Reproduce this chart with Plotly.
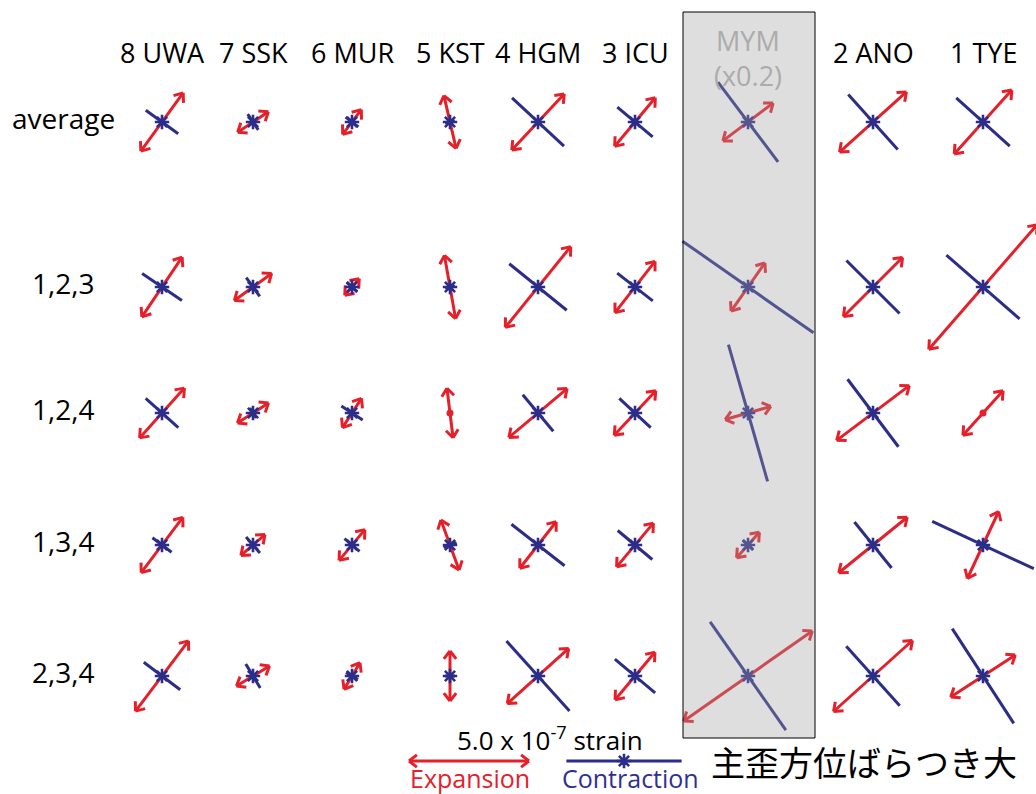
import math
import plotly.graph_objects as go

# ---------------- data ----------------
stations = ["8 UWA", "7 SSK", "6 MUR", "5 KST", "4 HGM", "3 ICU", "MYM", "2 ANO", "1 TYE"]
row_labels = ["average", "1,2,3", "1,2,4", "1,3,4", "2,3,4"]
# display factor per station (MYM drawn at x0.2)
display_factor = [1, 1, 1, 1, 1, 1, 0.2, 1, 1]

# principal expansion strain (unit: 1e-7 strain)
expansion = [
    [3.00, 1.54, 1.29, 2.25, 3.20, 2.63, 13.1, 3.75, 3.58],
    [3.00, 1.92, 0.92, 2.67, 4.33, 2.71, 12.3, 3.48, 6.88],
    [2.79, 1.54, 1.46, 2.08, 3.17, 2.54, 9.9, 3.79, 2.50],
    [2.88, 1.33, 1.67, 2.21, 2.46, 2.38, 7.1, 3.67, 3.08],
    [3.67, 1.61, 1.29, 2.08, 3.44, 2.58, 32.7, 4.42, 3.21],
]
# principal contraction strain (unit: 1e-7 strain; negative = also extensional)
contraction = [
    [1.67, 0.79, 0.67, 0.42, 2.96, 1.92, 20.8, 3.08, 3.00],
    [2.00, 0.96, 0.58, 0.42, 3.08, 1.88, 33.3, 3.13, 4.04],
    [1.83, 0.50, 1.06, -0.17, 1.98, 1.79, 29.6, 3.52, -0.25],
    [1.00, 0.88, 0.82, 0.58, 2.81, 1.88, 2.9, 2.46, 4.67],
    [1.90, 1.17, 0.58, 0.42, 3.92, 2.19, 27.5, 3.33, 4.71],
]
# azimuth of expansion axis (degrees clockwise from north)
azimuth = [
    [36, 56, 37, 167, 43, 40, 53, 48, 42],
    [34, 54, 41, 170, 39, 38, 35, 45, 41],
    [42, 57, 33, 173, 50, 43, 74, 53, 42],
    [37, 49, 40, 160, 38, 40, 42, 51, 25],
    [37, 59, 31, 180, 48, 40, 55, 48, 57],
]
legend_strain = 5.0  # 1e-7 strain

# ---------------- layout constants ----------------
W, H = 1036, 794
col_x = [162, 253, 352, 450, 538, 635, 748, 873, 983]
row_y = [122, 287, 413, 545, 676]
PX_PER_UNIT = 24.0  # tip-to-tip pixels per 1e-7 strain
RED = "#e4202a"
BLUE = "#2b2d88"
HEAD_LEN = 10
HEAD_ANG = math.radians(38)


def direction(az):
    a = math.radians(az)
    return math.sin(a), -math.cos(a)


def add_arrow(xs, ys, cx, cy, half, az, heads=True):
    dx, dy = direction(az)
    x1, y1 = cx - half * dx, cy - half * dy
    x2, y2 = cx + half * dx, cy + half * dy
    xs += [x1, x2, None]
    ys += [y1, y2, None]
    if not heads:
        return
    for tx, ty, ux, uy in [(x2, y2, dx, dy), (x1, y1, -dx, -dy)]:
        for s in (1, -1):
            c, sn = math.cos(s * HEAD_ANG), math.sin(s * HEAD_ANG)
            rx_ = ux * c - uy * sn
            ry_ = ux * sn + uy * c
            xs += [tx - HEAD_LEN * rx_, tx, None]
            ys += [ty - HEAD_LEN * ry_, ty, None]


def add_line(xs, ys, cx, cy, half, az):
    dx, dy = direction(az)
    xs += [cx - half * dx, cx + half * dx, None]
    ys += [cy - half * dy, cy + half * dy, None]


rx, ry, bx, by = [], [], [], []
mbx, mby, mrx, mry = [], [], [], []
for i, yy in enumerate(row_y):
    for j, xx in enumerate(col_x):
        f = display_factor[j]
        he = expansion[i][j] * PX_PER_UNIT / 2 * f
        hc = contraction[i][j] * PX_PER_UNIT / 2 * f
        add_arrow(rx, ry, xx, yy, he, azimuth[i][j])
        if hc >= 0:
            add_line(bx, by, xx, yy, hc, azimuth[i][j] + 90)
            mbx.append(xx)
            mby.append(yy)
        else:
            add_line(rx, ry, xx, yy, -hc, azimuth[i][j] + 90)
            mrx.append(xx)
            mry.append(yy)

# legend symbols
leg_red_c = (469, 761)
leg_blue_c = (624, 761)
add_arrow(rx, ry, leg_red_c[0], leg_red_c[1], legend_strain * PX_PER_UNIT / 2, 90)
add_line(bx, by, leg_blue_c[0], leg_blue_c[1], legend_strain * PX_PER_UNIT / 2 * 0.96, 90)
mbx.append(leg_blue_c[0])
mby.append(leg_blue_c[1])

fig = go.Figure()
fig.add_trace(go.Scatter(x=rx, y=ry, mode="lines", line=dict(color=RED, width=3),
                         hoverinfo="skip"))
fig.add_trace(go.Scatter(x=bx, y=by, mode="lines", line=dict(color=BLUE, width=3),
                         hoverinfo="skip"))
fig.add_trace(go.Scatter(x=mbx, y=mby, mode="markers",
                         marker=dict(symbol="asterisk-open", size=12, color=BLUE,
                                     line=dict(color=BLUE, width=2.6)),
                         hoverinfo="skip"))
fig.add_trace(go.Scatter(x=mrx, y=mry, mode="markers",
                         marker=dict(symbol="circle", size=7, color=RED),
                         hoverinfo="skip"))

# MYM overlay box
fig.add_shape(type="rect", x0=683, x1=815, y0=12, y1=738, xref="x", yref="y",
              fillcolor="rgba(160,160,160,0.35)", line=dict(color="black", width=1),
              layer="above")

FONT = "Open Sans, Noto Sans, sans-serif"
ann = []
for j, name in enumerate(stations):
    if name == "MYM":
        ann.append(dict(x=col_x[j], y=40, text="MYM", font=dict(size=27, color="#ababab", family=FONT)))
        ann.append(dict(x=col_x[j], y=75, text="(x0.2)", font=dict(size=27, color="#ababab", family=FONT)))
    else:
        ann.append(dict(x=col_x[j], y=52, text=name, font=dict(size=27, color="black", family=FONT)))
for i, lab in enumerate(row_labels):
    ann.append(dict(x=63, y=row_y[i] - 4, text=lab, font=dict(size=28, color="black", family=FONT)))

ann.append(dict(x=550, y=739, text="5.0 x 10<sup>-7</sup> strain",
                font=dict(size=26, color="black", family=FONT)))
ann.append(dict(x=470, y=778, text="Expansion", font=dict(size=25, color=RED, family=FONT)))
ann.append(dict(x=630, y=778, text="Contraction", font=dict(size=25, color="#2e3192", family=FONT)))
ann.append(dict(x=864, y=761, text="主歪方位ばらつき大",
                font=dict(size=34, color="black", family="Noto Sans CJK JP")))
for a in ann:
    a.update(xref="x", yref="y", showarrow=False, xanchor="center", yanchor="middle")

fig.update_layout(
    width=W, height=H, autosize=False,
    margin=dict(l=0, r=0, t=0, b=0),
    paper_bgcolor="white", plot_bgcolor="white",
    showlegend=False,
    xaxis=dict(range=[0, W], visible=False, fixedrange=True),
    yaxis=dict(range=[H, 0], visible=False, fixedrange=True),
    annotations=ann,
)
fig.write_html(
    "out.html",
    config={"displayModeBar": False},
    post_script="document.body.style.margin='0';document.body.style.overflow='hidden';",
)
